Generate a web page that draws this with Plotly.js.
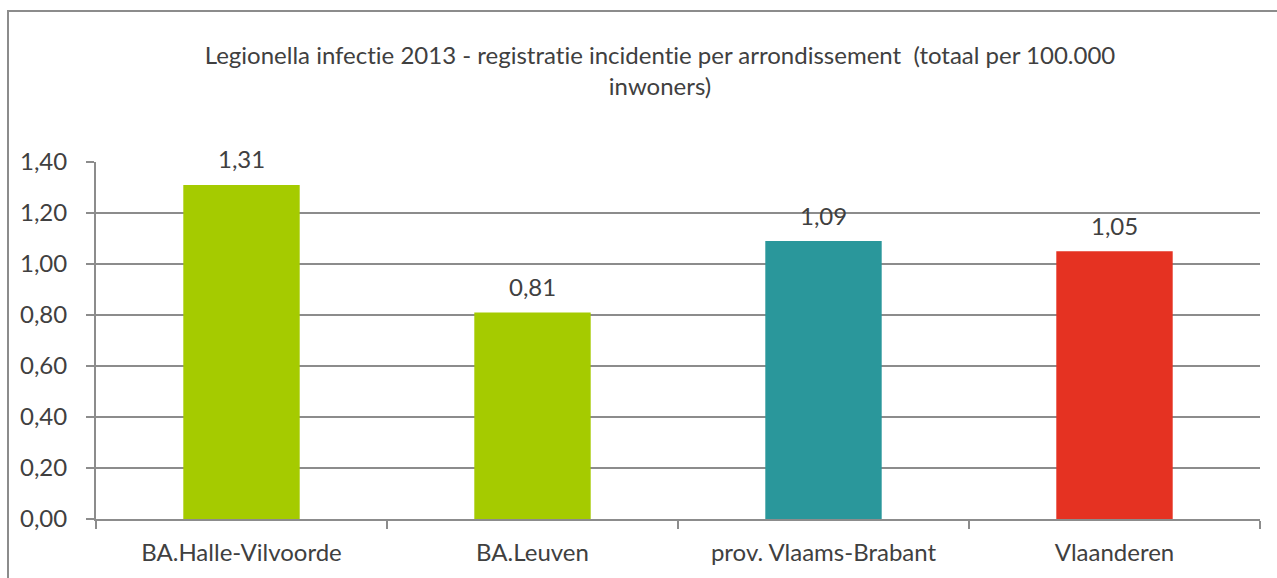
<!DOCTYPE html>
<html>
<head>
<meta charset="utf-8">
<script src="https://cdn.plot.ly/plotly-3.0.1.min.js"></script>
<style>
  html, body { margin: 0; padding: 0; background: #fff; }
  #wrap { position: relative; width: 1277px; height: 578px; overflow: hidden; }
  #chart { width: 1277px; height: 578px; }
  #chart text { font-variant-ligatures: none; font-feature-settings: "liga" 0; }
  #frame { position: absolute; left: 7px; top: 10px; width: 1400px; height: 700px;
           border-top: 2px solid #8c8c8c; border-left: 2px solid #8c8c8c; pointer-events: none; }
</style>
</head>
<body>
<div id="wrap">
  <div id="chart"></div>
  <div id="frame"></div>
</div>
<script>
const categories = ["BA.Halle-Vilvoorde", "BA.Leuven", "prov. Vlaams-Brabant", "Vlaanderen"];
const values = [1.31, 0.81, 1.09, 1.05];
const barColors = ["#A5CB00", "#A5CB00", "#2A979B", "#E53222"];
const yTickValues = [0, 0.2, 0.4, 0.6, 0.8, 1.0, 1.2, 1.4];
const chartTitle = "Legionella infectie 2013 - registratie incidentie per arrondissement  (totaal per 100.000<br>inwoners)";

const FONT = "Lato, 'Open Sans', sans-serif";
const TXT = "#404040";
const FS = 24;

const trace = {
  type: "bar",
  x: categories,
  y: values,
  marker: { color: barColors, line: { width: 0 } },
  hoverinfo: "skip"
};

const annotations = categories.map((c, i) => ({
  x: c, y: values[i], xref: "x", yref: "y",
  text: values[i].toFixed(2).replace(".", ","),
  showarrow: false, yanchor: "middle", yshift: 26,
  font: { family: FONT, size: FS, color: TXT }
}));

const layout = {
  width: 1277, height: 578,
  margin: { l: 96, r: 17, t: 162, b: 59, pad: 0 },
  paper_bgcolor: "#fff", plot_bgcolor: "#fff",
  separators: ",.",
  font: { family: FONT, size: FS, color: TXT },
  showlegend: false,
  bargap: 0.6,
  title: {
    text: chartTitle,
    xref: "container", x: 660 / 1277, xanchor: "center",
    yref: "container", y: 1 - 64 / 578, yanchor: "top",
    font: { family: FONT, size: FS, color: TXT }
  },
  xaxis: {
    type: "category",
    showline: true, linecolor: "#8c8c8c", linewidth: 2,
    ticks: "outside", tickson: "boundaries", ticklen: 8, tickcolor: "#8c8c8c", tickwidth: 2,
    ticklabelstandoff: 11,
    showgrid: false, zeroline: false,
    tickfont: { family: FONT, size: FS, color: TXT },
    fixedrange: true
  },
  yaxis: {
    range: [0, 1.4],
    tickvals: yTickValues,
    tickformat: ".2f",
    showline: true, linecolor: "#8c8c8c", linewidth: 2,
    ticks: "outside", ticklen: 8, tickcolor: "#8c8c8c", tickwidth: 2,
    ticklabelstandoff: 14,
    showgrid: true, gridcolor: "#8c8c8c", gridwidth: 2,
    zeroline: false,
    tickfont: { family: FONT, size: FS, color: TXT },
    fixedrange: true
  },
  annotations: annotations
};

Plotly.newPlot("chart", [trace], layout, { displayModeBar: false, staticPlot: true });
</script>
</body>
</html>
